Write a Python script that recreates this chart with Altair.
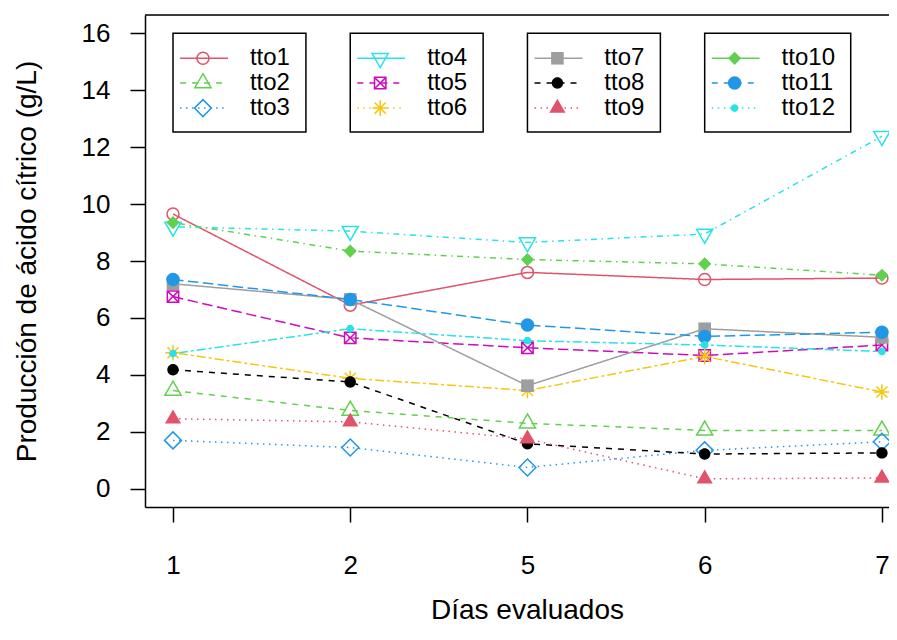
import altair as alt
import pandas as pd

# ---------------- data ----------------
days = ["1", "2", "5", "6", "7"]
series = ["tto1", "tto2", "tto3", "tto4", "tto5", "tto6",
          "tto7", "tto8", "tto9", "tto10", "tto11", "tto12"]

tto1 = [9.65, 6.45, 7.60, 7.35, 7.40]
tto2 = [3.45, 2.75, 2.30, 2.05, 2.05]
tto3 = [1.70, 1.45, 0.75, 1.35, 1.65]
tto4 = [9.20, 9.05, 8.65, 8.95, 12.38]
tto5 = [6.75, 5.30, 4.95, 4.68, 5.05]
tto6 = [4.78, 3.88, 3.45, 4.65, 3.40]
tto7 = [7.20, 6.65, 3.62, 5.62, 5.32]
tto8 = [4.18, 3.75, 1.58, 1.22, 1.26]
tto9 = [2.46, 2.35, 1.75, 0.35, 0.38]
tto10 = [9.35, 8.35, 8.05, 7.90, 7.50]
tto11 = [7.35, 6.65, 5.75, 5.35, 5.50]
tto12 = [4.75, 5.62, 5.20, 5.05, 4.82]
all_values = [tto1, tto2, tto3, tto4, tto5, tto6,
              tto7, tto8, tto9, tto10, tto11, tto12]

# ---------------- styles ----------------
colors = ["#DF536B", "#61D04F", "#2297E6", "#28E2E5", "#CD0BBC", "#F5C710",
          "#9E9E9E", "#000000", "#DF536B", "#61D04F", "#2297E6", "#28E2E5"]
solid, dashed, dotted = [1, 0], [6, 6], [1.5, 4.5]
dotdash, longdash, twodash = [1.5, 4.5, 6, 4.5], [10.5, 4.5], [3, 3, 9, 3]
dashes = [solid, dashed, dotted, dotdash, longdash, twodash] * 2


def circ(r):
    return f"M{-r},0A{r},{r} 0 1,1 {r},0A{r},{r} 0 1,1 {-r},0Z"


tri_up = "M0,-1.555L1.347,0.778L-1.347,0.778Z"
shapes = [
    "circle",
    tri_up,
    "M0,-1.414L1.414,0L0,1.414L-1.414,0Z",
    "M0,1.555L1.347,-0.778L-1.347,-0.778Z",
    "M-0.95,-0.95L0.95,-0.95L0.95,0.95L-0.95,0.95Z M-0.95,-0.95L0.95,0.95 M-0.95,0.95L0.95,-0.95",
    "M-1.3,0L1.3,0 M0,-1.3L0,1.3 M-0.92,-0.92L0.92,0.92 M-0.92,0.92L0.92,-0.92",
    "M-1.05,-1.05L1.05,-1.05L1.05,1.05L-1.05,1.05Z",
    circ(0.95),
    tri_up,
    "M0,-1.1L1.1,0L0,1.1L-1.1,0Z",
    circ(1.12),
    circ(0.65),
]
open_series = series[:6]
filled_series = series[6:]

rows = []
for s, vals in zip(series, all_values):
    for i, v in enumerate(vals):
        rows.append({"serie": s, "pos": i + 1, "valor": v})
df = pd.DataFrame(rows)

# legend table (4 boxes of 3 entries)
box_left = [1, 2, 3, 4]
box_width = [0.75, 0.75, 0.75, 0.824]
row_y = [15.12, 14.25, 13.37]
leg = []
for i, s in enumerate(series):
    g, r = divmod(i, 3)
    L = box_left[g]
    leg.append({"serie": s, "row": r, "l1": L + 0.04, "l2": L + 0.31,
                "lm": L + 0.169, "lt": L + 0.434, "ly": row_y[r]})
leg = pd.DataFrame(leg)
boxes = pd.DataFrame({"bx1": box_left,
                      "bx2": [a + w for a, w in zip(box_left, box_width)],
                      "by1": [16.0] * 4, "by2": [12.53] * 4})

W, H = 744, 492
xscale = alt.Scale(domain=[0.842, 5.04], nice=False, zero=False)
yscale = alt.Scale(domain=[-0.64, 16.64], nice=False, zero=False)
color = alt.Color("serie:N", scale=alt.Scale(domain=series, range=colors), legend=None)
shape = alt.Shape("serie:N", scale=alt.Scale(domain=series, range=shapes), legend=None)
label_expr = "[" + ",".join(f"'{d}'" for d in days) + "][datum.value - 1]"

axis_common = dict(domainColor="black", domainWidth=1.5, tickColor="black",
                   tickWidth=1.5, tickSize=15, labelColor="black", labelFontSize=26,
                   titleColor="black", titleFontSize=28, titleFontWeight="normal",
                   grid=False, labelFont="Liberation Sans", titleFont="Liberation Sans")

x_axis = alt.Axis(values=[1, 2, 3, 4, 5], labelExpr=label_expr,
                  title="Días evaluados", labelPadding=30,
                  titleX=382, titleY=111, titleAlign="center",
                  titleBaseline="alphabetic", labelFlush=False, **axis_common)
y_axis = alt.Axis(values=list(range(0, 17, 2)), labelPadding=20,
                  title="Producción de ácido cítrico (g/L)",
                  titleX=-118, titleY=H / 2, titleAngle=-90,
                  titleAlign="center", titleBaseline="middle",
                  labelFlush=False, **axis_common)


def X(f):
    return alt.X(f, scale=xscale, axis=x_axis)


def Y(f):
    return alt.Y(f, scale=yscale, axis=y_axis)


base = alt.Chart(df)
lines = base.mark_line(strokeWidth=1.5).encode(
    x=X("pos:Q"), y=Y("valor:Q"), color=color,
    strokeDash=alt.StrokeDash("serie:N", scale=alt.Scale(domain=series, range=dashes), legend=None),
    order="pos:Q")
pts_open = base.transform_filter(
    alt.FieldOneOfPredicate(field="serie", oneOf=open_series)
).mark_point(filled=False, size=144, strokeWidth=1.5, opacity=1).encode(
    x=X("pos:Q"), y=Y("valor:Q"), color=color, shape=shape)
pts_fill = base.transform_filter(
    alt.FieldOneOfPredicate(field="serie", oneOf=filled_series)
).mark_point(filled=True, size=144, opacity=1).encode(
    x=X("pos:Q"), y=Y("valor:Q"), color=color, shape=shape)

# frame top line
top = alt.Chart(pd.DataFrame({"a": [0]})).mark_rule(color="black", strokeWidth=1.5).encode(
    x=alt.value(0), x2=alt.value(W), y=alt.value(0))

# legend
lb = alt.Chart(boxes).mark_rect(fillOpacity=0, stroke="black", strokeWidth=1.5).encode(
    x=X("bx1:Q"), x2="bx2:Q", y=Y("by1:Q"), y2="by2:Q")
lbase = alt.Chart(leg)
leg_lines = []
for r, dsh in enumerate([solid, dashed, dotted]):
    leg_lines.append(
        lbase.transform_filter(alt.datum.row == r).mark_rule(strokeWidth=1.5, strokeDash=dsh).encode(
            x=X("l1:Q"), x2="l2:Q", y=Y("ly:Q"), color=color))
leg_open = lbase.transform_filter(
    alt.FieldOneOfPredicate(field="serie", oneOf=open_series)
).mark_point(filled=False, size=144, strokeWidth=1.5, opacity=1).encode(
    x=X("lm:Q"), y=Y("ly:Q"), color=color, shape=shape)
leg_fill = lbase.transform_filter(
    alt.FieldOneOfPredicate(field="serie", oneOf=filled_series)
).mark_point(filled=True, size=144, opacity=1).encode(
    x=X("lm:Q"), y=Y("ly:Q"), color=color, shape=shape)
leg_text = lbase.mark_text(align="left", baseline="middle", fontSize=24,
                           font="Liberation Sans", color="black").encode(
    x=X("lt:Q"), y=Y("ly:Q"), text="serie:N")

chart = alt.layer(lines, pts_open, pts_fill, top, lb, *leg_lines, leg_open, leg_fill, leg_text).properties(
    width=W, height=H,
    autosize=alt.AutoSizeParams(type="none"),
    padding={"left": 137, "top": 7, "right": 0, "bottom": 118},
).configure_view(stroke="transparent").configure(font="Liberation Sans")

chart.save("out.html", embed_options={"renderer": "svg", "actions": False})
